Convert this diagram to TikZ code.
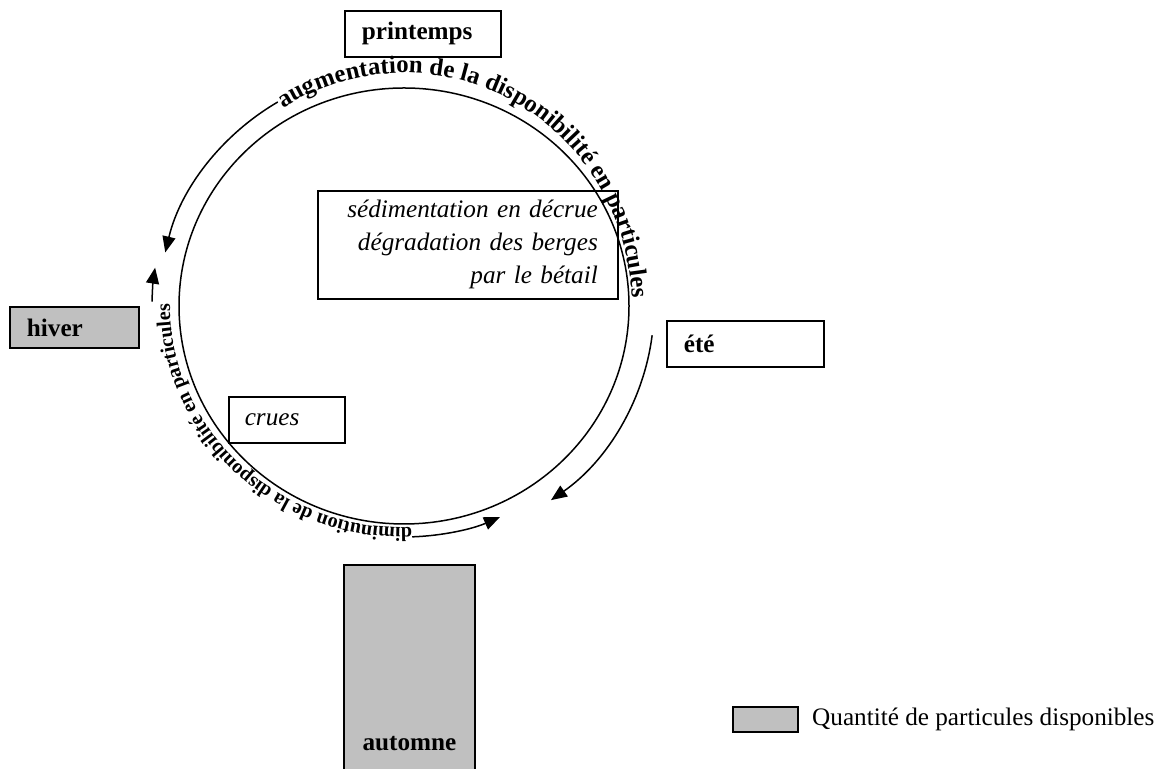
\documentclass[tikz,border=0pt]{standalone}
\usepackage{fontspec}
\setmainfont{Liberation Serif}
\usepackage{xcolor}
\usetikzlibrary{positioning, arrows.meta, calc, decorations.text}
\definecolor{stock}{HTML}{C0C0C0}

\begin{document}
\begin{tikzpicture}[
    x=0.5pt, y=0.5pt,
    font=\fontsize{12.6}{16.5}\selectfont,
    season/.style={draw=black, line width=0.9pt, anchor=north west,
        minimum height=23pt, inner xsep=8.5pt, align=left,
        font=\fontsize{12.6}{16.5}\selectfont\bfseries},
    cause/.style={draw=black, line width=0.8pt, anchor=north west,
        font=\fontsize{12.6}{16.5}\selectfont\itshape},
    ring/.style={draw=black, line width=0.75pt},
    cyc/.style={-{Triangle[length=8pt, width=6.5pt]}, line width=0.75pt},
  ]
  \clip (0,0) rectangle (1166,769);
  \coordinate (C) at (404,463);
  \draw[ring] (C) ellipse[x radius=225, y radius=218];
  % seasons
  \node[season, text width=61pt] (printemps) at (344,759) {printemps};
  \node[season, fill=stock, text width=47.5pt, minimum height=20.5pt] (hiver) at (9,463) {hiver};
  \node[season, text width=61.5pt] (ete) at (666,449) {été};
  \node[season, fill=stock, text width=48.5pt, minimum height=179pt, align=center] (automne) at (343,205) {automne};
  % causes
  \node[cause, text width=130pt, inner xsep=10pt, minimum height=54pt, align=right] (sedim) at (317,579) {sédimentation en décrue\\dégradation des berges\\par le bétail};
  \node[cause, text width=42pt, inner xsep=8pt, minimum height=23pt, align=left] (crues) at (228,373) {crues};
  % cycle arrows
  \draw[cyc] ($(C)+(121:245 and 238)$) arc[start angle=121, end angle=167, x radius=245, y radius=238];
  \draw[cyc] ($(C)+(-7:250 and 240)$) arc[start angle=-7, end angle=-54, x radius=250, y radius=240];
  \draw[cyc] ($(C)+(-88:236 and 231)$) arc[start angle=-88, end angle=-66, x radius=236, y radius=231];
  \draw[cyc] ($(C)+(179:252 and 245)$) arc[start angle=179, end angle=171, x radius=252, y radius=245];
  % curved labels
  \path[decorate, decoration={text along path,
      text={|\fontsize{12.4}{14}\selectfont\bfseries|augmentation de la disponibilité en particules}}]
    ($(C)+(122:228 and 233)$) arc[start angle=122, end angle=-8, x radius=228, y radius=233];
  \path[decorate, decoration={text along path,
      text={|\fontsize{10.1}{13}\selectfont\bfseries|diminution de la disponibilité en particules}}]
    ($(C)+(-88:234 and 222)$) arc[start angle=-88, end angle=-188, x radius=234, y radius=222];
  % legend
  \node[draw=black, line width=0.9pt, fill=stock, minimum width=32.5pt, minimum height=12.5pt, inner sep=0pt, anchor=north west] (legbox) at (732,63) {};
  \node[right=6.5pt of legbox, inner sep=0pt] (legtext) {Quantité de particules disponibles};
\end{tikzpicture}
\end{document}
